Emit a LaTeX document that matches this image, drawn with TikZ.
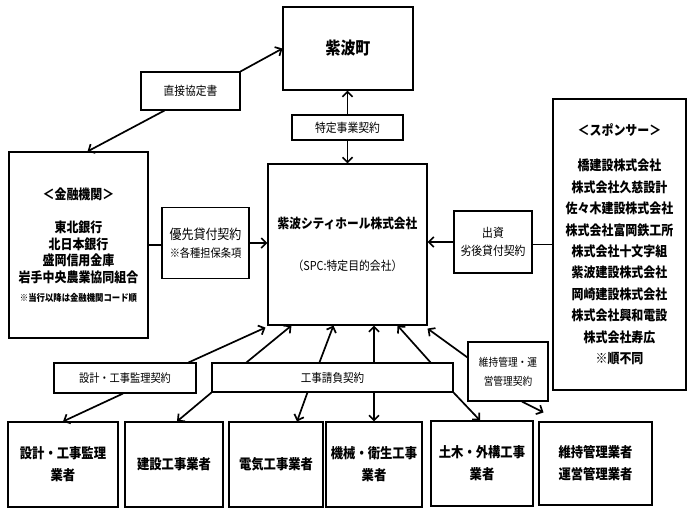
\documentclass[tikz,border=0pt]{standalone}
\usepackage{fontspec}
\newfontfamily\jp[FakeStretch=0.88]{Noto Sans CJK JP}
\newcommand\jfs[2]{\fontsize{#1}{#2}\selectfont}
\usetikzlibrary{arrows.meta}
\tikzset{
  ent/.style={draw, line width=1.1pt, inner sep=0pt, align=center},
  lab/.style={draw, line width=1.1pt, inner sep=0pt, align=center},
  arr/.style={line width=1.7pt, -{Straight Barb[length=5pt,width=10pt]}},
  plain/.style={line width=1.7pt}
}
\begin{document}
\begin{tikzpicture}[x=1pt,y=-1pt]
\useasboundingbox (0,0) rectangle (689,509);
% entities
\node[ent, minimum width=130pt, minimum height=83pt, font=\jp\bfseries\jfs{17}{20}] (town) at (348,48.5) {紫波町};
\node[ent, minimum width=159pt, minimum height=161pt, font=\jp\bfseries\jfs{13.3}{16}] (spc) at (347.5,244.5)
  {紫波シティホール株式会社\\[26pt]
   {\mdseries\jfs{12.3}{15}（SPC:特定目的会社）}};
\node[ent, minimum width=139pt, minimum height=186pt, font=\jp\bfseries\jfs{13.6}{16.5}] (fin) at (78.5,245)
  {＜金融機関＞\\[16.5pt]
   東北銀行\\ 北日本銀行\\ 盛岡信用金庫\\ 岩手中央農業協同組合\\[2.5pt]
   {\jfs{9.5}{12}※当行以降は金融機関コード順}};
\node[ent, minimum width=133pt, minimum height=291pt, font=\jp\bfseries\jfs{13.6}{21.4}] (spn) at (619.5,244.5)
  {＜スポンサー＞\\[13.6pt]
   橋建設株式会社\\ 株式会社久慈設計\\ 佐々木建設株式会社\\ 株式会社富岡鉄工所\\
   株式会社十文字組\\ 紫波建設株式会社\\ 岡崎建設株式会社\\ 株式会社興和電設\\
   株式会社寿広\\ ※順不同};
% contract labels
\node[lab, minimum width=99pt, minimum height=38pt, font=\jp\jfs{12.2}{15}] (chok) at (190.5,91) {直接協定書};
\node[lab, minimum width=111pt, minimum height=25pt, font=\jp\jfs{12.3}{15}] (tok) at (347.5,127.5) {特定事業契約};
\node[lab, minimum width=87pt, minimum height=71pt, font=\jp\jfs{13.6}{18}] (yus) at (205.5,243)
  {優先貸付契約\\ {\jfs{11.6}{14}※各種担保条項}};
\node[lab, minimum width=78pt, minimum height=62pt, font=\jp\jfs{12.3}{18}] (shu) at (493,242)
  {出資\\ 劣後貸付契約};
\node[lab, minimum width=142pt, minimum height=30pt, font=\jp\jfs{11.6}{14}] (sek) at (125,378) {設計・工事監理契約};
\node[lab, minimum width=241pt, minimum height=29pt, font=\jp\jfs{12}{14}] (koj) at (332.5,377.5) {工事請負契約};
\node[lab, minimum width=80pt, minimum height=59pt, font=\jp\jfs{11}{19}] (iji) at (508,371.5)
  {維持管理・運\\ 営管理契約};
% bottom entities
\tikzset{bot/.style={ent, minimum height=85pt, font=\jp\bfseries\jfs{14}{22}}}
\node[bot, minimum width=110pt] (b1) at (63,464.5) {設計・工事監理\\ 業者};
\node[bot, minimum width=98pt] (b2) at (174,464.5) {建設工事業者};
\node[bot, minimum width=94pt] (b3) at (276,464.5) {電気工事業者};
\node[bot, minimum width=96pt] (b4) at (374,464.5) {機械・衛生工事\\ 業者};
\node[bot, minimum width=102pt] (b5) at (482,463.5) {土木・外構工事\\ 業者};
\node[bot, minimum width=113pt, minimum height=83pt] (b6) at (595.5,463.5) {維持管理業者\\ 運営管理業者};
% connectors top
\draw[arr] (chok.north east) -- (town.west);
\draw[arr] ([xshift=24pt]chok.south west) -- ([xshift=9pt]fin.north);
\draw[arr] (tok.north) -- (tok.north |- town.south);
\draw[arr] (tok.south) -- (tok.south |- spc.north);
\draw[plain] (fin.east) -- (fin.east -| yus.west);
\draw[arr] (yus.east) -- (yus.east -| spc.west);
\draw[plain] (spn.west) -- (spn.west -| shu.east);
\draw[arr] (shu.west) -- (shu.west -| spc.east);
% connectors bottom
\draw[arr] ([xshift=-8pt]sek.north east) -- ([xshift=-2pt,yshift=-2pt]spc.south west);
\draw[arr] ([xshift=-2pt]sek.south) -- (b1.north);
\draw[arr] ([xshift=35pt]koj.north west) -- ([xshift=24pt]spc.south west);
\draw[arr] (koj.south west) -- ([xshift=3pt]b2.north);
\draw[arr] ([xshift=108pt]koj.north west) -- ([xshift=66pt]spc.south west);
\draw[arr] ([xshift=96pt]koj.south west) -- ([xshift=21pt]b3.north);
\draw[arr] (b4.north |- koj.north) -- (b4.north |- spc.south);
\draw[arr] (b4.north |- koj.south) -- (b4.north);
\draw[arr] ([xshift=-23pt]koj.north east) -- ([xshift=-30pt]spc.south east);
\draw[arr] (koj.south east) -- ([xshift=-2pt]b5.north);
\draw[arr] ([yshift=-16pt]iji.north west) -- ([yshift=-3pt]spc.south east);
\draw[arr] ([xshift=14pt]iji.south) -- ([xshift=-52pt,yshift=9pt]b6.north);
\end{tikzpicture}
\end{document}
